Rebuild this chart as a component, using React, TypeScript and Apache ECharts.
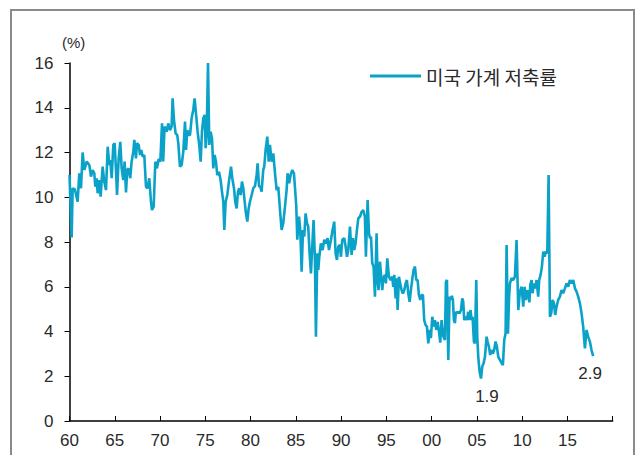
import React, { useEffect, useRef } from 'react';
import * as echarts from 'echarts';

const seriesName = '미국 가계 저축률';
const unitLabel = '(%)';

const years = [
  1960.0, 1960.24, 1960.35, 1960.6, 1960.9, 1961.08, 1961.27, 1961.45, 1961.64, 1961.9,
  1962.19, 1962.37, 1962.56, 1962.74, 1962.85, 1963.0, 1963.11, 1963.29, 1963.44, 1963.66,
  1963.84, 1964.03, 1964.22, 1964.4, 1964.5, 1964.66, 1964.84, 1964.99, 1965.14, 1965.25,
  1965.43, 1965.61, 1965.76, 1965.94, 1966.09, 1966.24, 1966.38, 1966.53, 1966.71, 1966.86,
  1967.05, 1967.16, 1967.34, 1967.45, 1967.64, 1967.79, 1967.93, 1968.08, 1968.26, 1968.45,
  1968.63, 1968.81, 1969.0, 1969.11, 1969.3, 1969.48, 1969.66, 1969.85, 1970.03, 1970.22,
  1970.35, 1970.5, 1970.73, 1970.91, 1971.1, 1971.28, 1971.39, 1971.54, 1971.72, 1971.9,
  1972.02, 1972.2, 1972.39, 1972.57, 1972.76, 1972.87, 1973.01, 1973.16, 1973.31, 1973.49,
  1973.67, 1973.82, 1973.97, 1974.15, 1974.33, 1974.49, 1974.63, 1974.78, 1974.93, 1975.04,
  1975.15, 1975.3, 1975.44, 1975.59, 1975.74, 1975.88, 1976.03, 1976.18, 1976.32, 1976.51,
  1976.69, 1976.84, 1976.99, 1977.1, 1977.25, 1977.43, 1977.61, 1977.84, 1977.98, 1978.17,
  1978.31, 1978.46, 1978.61, 1978.75, 1978.9, 1979.05, 1979.2, 1979.35, 1979.49, 1979.64,
  1979.79, 1979.93, 1980.12, 1980.3, 1980.49, 1980.67, 1980.78, 1980.93, 1981.07, 1981.22,
  1981.4, 1981.51, 1981.66, 1981.85, 1982.0, 1982.14, 1982.33, 1982.51, 1982.7, 1982.88,
  1983.06, 1983.25, 1983.43, 1983.61, 1983.8, 1983.98, 1984.09, 1984.27, 1984.42, 1984.61,
  1984.79, 1984.9, 1985.05, 1985.16, 1985.35, 1985.49, 1985.64, 1985.79, 1985.93, 1986.08,
  1986.23, 1986.37, 1986.52, 1986.67, 1986.81, 1986.96, 1987.11, 1987.22, 1987.37, 1987.48,
  1987.59, 1987.77, 1987.96, 1988.14, 1988.33, 1988.51, 1988.66, 1988.88, 1989.06, 1989.24,
  1989.39, 1989.54, 1989.69, 1989.87, 1989.98, 1990.13, 1990.35, 1990.5, 1990.65, 1990.79,
  1990.98, 1991.16, 1991.31, 1991.45, 1991.6, 1991.75, 1991.9, 1992.08, 1992.27, 1992.45,
  1992.63, 1992.74, 1992.93, 1993.08, 1993.19, 1993.3, 1993.44, 1993.59, 1993.74, 1993.92,
  1994.03, 1994.14, 1994.29, 1994.4, 1994.55, 1994.66, 1994.84, 1994.95, 1995.1, 1995.28,
  1995.47, 1995.65, 1995.76, 1995.87, 1996.02, 1996.13, 1996.24, 1996.39, 1996.53, 1996.68,
  1996.83, 1996.98, 1997.13, 1997.27, 1997.42, 1997.57, 1997.71, 1997.9, 1998.01, 1998.16,
  1998.3, 1998.45, 1998.6, 1998.74, 1998.89, 1999.04, 1999.18, 1999.33, 1999.48, 1999.63,
  1999.81, 1999.92, 2000.07, 2000.22, 2000.36, 2000.51, 2000.66, 2000.84, 2000.95, 2001.1,
  2001.28, 2001.47, 2001.58, 2001.69, 2001.84, 2001.98, 2002.09, 2002.24, 2002.35, 2002.46,
  2002.57, 2002.68, 2002.83, 2002.94, 2003.09, 2003.24, 2003.38, 2003.49, 2003.6, 2003.75,
  2003.9, 2004.04, 2004.15, 2004.3, 2004.41, 2004.52, 2004.67, 2004.78, 2004.93, 2005.04,
  2005.15, 2005.3, 2005.45, 2005.59, 2005.74, 2005.89, 2006.07, 2006.18, 2006.33, 2006.47,
  2006.62, 2006.77, 2006.91, 2007.06, 2007.21, 2007.36, 2007.54, 2007.73, 2007.87, 2008.02,
  2008.17, 2008.28, 2008.43, 2008.55, 2008.65, 2008.83, 2009.01, 2009.2, 2009.38, 2009.57,
  2009.75, 2009.94, 2010.12, 2010.27, 2010.41, 2010.56, 2010.71, 2010.8, 2010.9, 2011.04,
  2011.15, 2011.3, 2011.44, 2011.59, 2011.77, 2011.88, 2012.03, 2012.18, 2012.33, 2012.48,
  2012.62, 2012.77, 2012.92, 2013.07, 2013.21, 2013.36, 2013.51, 2013.65, 2013.8, 2013.98,
  2014.17, 2014.35, 2014.53, 2014.72, 2014.9, 2015.09, 2015.27, 2015.46, 2015.64, 2015.83,
  2016.01, 2016.19, 2016.38, 2016.56, 2016.74, 2016.93, 2017.11, 2017.29, 2017.48, 2017.66,
  2017.84,
];

const rates = [
  11.0, 8.2, 10.4, 10.35, 9.8, 11.07, 10.4, 12.0, 11.22, 11.59,
  11.44, 10.92, 11.22, 11.07, 10.47, 10.85, 10.18, 10.77, 10.03, 11.37,
  10.7, 10.32, 12.26, 11.44, 11.66, 10.85, 12.34, 12.41, 11.14, 10.1,
  11.74, 12.48, 11.29, 10.77, 11.59, 10.22, 11.22, 11.29, 10.85, 11.59,
  12.04, 12.56, 11.74, 12.41, 12.34, 11.89, 12.11, 11.81, 11.89, 10.47,
  10.4, 10.85, 9.8, 9.43, 9.58, 11.59, 11.29, 11.71, 11.59, 13.3,
  11.6, 13.16, 12.93, 13.3, 13.0, 13.16, 14.42, 13.45, 12.86, 12.78,
  12.41, 11.37, 11.44, 12.04, 13.38, 12.11, 13.0, 12.78, 12.78, 13.53,
  13.9, 14.42, 13.75, 12.93, 12.34, 11.59, 12.93, 13.53, 13.68, 12.19,
  12.78, 16.0, 12.34, 12.93, 12.63, 11.29, 11.89, 11.59, 10.99, 11.14,
  10.77, 10.25, 9.8, 8.54, 9.8, 10.1, 10.7, 11.37, 10.85, 10.4,
  9.8, 9.5, 10.25, 10.4, 10.1, 10.7, 10.4, 9.8, 9.28, 8.91,
  9.5, 9.8, 10.1, 10.4, 10.5, 11.0, 11.52, 10.5, 10.47, 10.25,
  11.22, 11.37, 12.11, 12.71, 11.59, 12.34, 11.59, 11.96, 11.07, 10.32,
  10.47, 9.43, 8.54, 8.84, 9.58, 10.32, 11.07, 10.62, 10.99, 11.22,
  11.07, 10.47, 9.58, 8.1, 9.13, 8.54, 6.67, 8.54, 8.24, 9.28,
  8.84, 8.69, 7.5, 6.6, 7.79, 8.98, 7.2, 3.77, 7.5, 6.75,
  7.34, 7.94, 7.64, 8.1, 7.94, 8.17, 7.64, 8.1, 8.54, 8.91,
  7.5, 7.2, 7.79, 7.87, 7.34, 8.1, 8.17, 7.79, 7.34, 7.64,
  8.69, 7.42, 8.17, 7.64, 7.94, 8.54, 9.06, 9.13, 9.35, 9.43,
  9.13, 7.34, 9.88, 8.39, 8.17, 8.24, 7.05, 6.9, 5.56, 8.39,
  6.3, 5.85, 7.12, 6.6, 5.85, 6.38, 6.53, 6.15, 7.27, 6.45,
  6.3, 6.45, 6.0, 6.53, 5.48, 6.38, 4.96, 6.45, 6.15, 5.85,
  5.7, 5.85, 6.15, 6.3, 5.7, 5.33, 5.85, 6.45, 6.75, 6.9,
  6.3, 6.3, 5.63, 5.41, 5.63, 5.63, 4.51, 4.29, 4.22, 3.47,
  4.07, 3.7, 4.66, 4.22, 4.51, 4.07, 4.43, 3.92, 3.5, 4.51,
  3.8, 3.62, 6.23, 6.3, 2.73, 5.56, 5.41, 5.59, 5.41, 4.51,
  4.37, 4.88, 4.81, 4.88, 4.81, 4.96, 5.48, 5.33, 4.51, 4.66,
  4.51, 4.88, 4.51, 4.96, 4.51, 4.66, 3.55, 3.47, 6.3, 3.77,
  2.87, 2.2, 1.9, 2.43, 2.58, 2.87, 3.77, 3.55, 3.32, 2.95,
  3.17, 3.02, 3.17, 3.55, 3.32, 2.87, 2.73, 2.58, 2.5, 3.62,
  3.92, 7.87, 3.9, 5.5, 6.15, 6.38, 6.3, 6.45, 8.09, 4.96,
  5.78, 6.0, 5.11, 6.0, 5.41, 5.85, 5.56, 5.3, 6.1, 6.3,
  5.71, 6.15, 5.93, 6.3, 5.56, 6.3, 6.52, 6.9, 7.57, 7.34,
  7.57, 7.49, 10.99, 4.66, 4.81, 5.41, 5.26, 4.74, 5.11, 5.41,
  5.56, 5.85, 5.71, 5.93, 6.15, 6.0, 6.3, 6.15, 6.3, 5.93,
  5.78, 5.56, 5.26, 4.81, 4.22, 3.25, 4.07, 3.77, 3.55, 3.17,
  2.9,
];

const xMin = 1960;
const xMax = 2020;
const xStep = 5;
const yMin = 0;
const yMax = 16;
const yStep = 2;

const annotations = [
  { label: '1.9', year: 2005.45, value: 1.9, offset: [6, 18] },
  { label: '2.9', year: 2017.84, value: 2.9, offset: [-3, 17] },
];

export default function App() {
  const ref = useRef<HTMLDivElement>(null);
  useEffect(() => {
    document.body.style.margin = '0';
    const chart = echarts.init(ref.current as HTMLDivElement, null, { renderer: 'svg' });
    const data = years.map((y, i) => [y, rates[i]]);
    const numFont = "'Liberation Sans', Arial, sans-serif";
    chart.setOption({
      animation: false,
      backgroundColor: '#ffffff',
      grid: { left: 69.5, right: 25.3, top: 63, bottom: 34, containLabel: false },
      legend: {
        show: true,
        data: [seriesName],
        left: 370,
        top: 66,
        padding: 0,
        icon: 'rect',
        itemWidth: 51,
        itemHeight: 3,
        textStyle: {
          fontFamily: "'Noto Sans CJK KR', sans-serif",
          fontSize: 19,
          color: '#2a2a2a',
          lineHeight: 20,
        },
      },
      xAxis: {
        type: 'value',
        min: xMin,
        max: xMax,
        interval: xStep,
        splitLine: { show: false },
        axisLine: { show: true, onZero: false, lineStyle: { color: '#000', width: 1.5 } },
        axisTick: { show: true, inside: true, length: 5, lineStyle: { color: '#000', width: 1 } },
        axisLabel: {
          margin: 11,
          fontSize: 17,
          fontFamily: numFont,
          color: '#2a2a2a',
          formatter: (v: number) => (v >= xMax ? '' : String(v % 100).padStart(2, '0')),
        },
      },
      yAxis: {
        type: 'value',
        min: yMin,
        max: yMax,
        interval: yStep,
        splitLine: { show: false },
        axisLine: { show: true, lineStyle: { color: '#000', width: 1.5 } },
        axisTick: { show: true, inside: false, length: 5, lineStyle: { color: '#000', width: 1 } },
        axisLabel: { margin: 16, fontSize: 17, fontFamily: numFont, color: '#2a2a2a' },
      },
      series: [
        {
          name: seriesName,
          type: 'line',
          data,
          showSymbol: false,
          symbol: 'none',
          lineStyle: { color: '#0aa2c8', width: 2.6 },
          itemStyle: { color: '#0aa2c8' },
          markPoint: {
            symbol: 'circle',
            symbolSize: 0,
            silent: true,
            data: annotations.map((a) => ({
              coord: [a.year, a.value],
              value: a.label,
              label: {
                show: true,
                position: 'inside',
                offset: a.offset,
                formatter: a.label,
                fontSize: 17,
                fontFamily: numFont,
                color: '#2a2a2a',
              },
            })),
          },
        },
      ],
      graphic: [
        {
          type: 'rect',
          shape: { x: 11, y: 10, width: 623, height: 470 },
          style: { fill: 'none', stroke: '#8a8a8a', lineWidth: 2 },
          silent: true,
        },
        {
          type: 'text',
          x: 62,
          y: 42,
          style: {
            text: unitLabel,
            fontSize: 15,
            fontFamily: numFont,
            fill: '#2a2a2a',
            textVerticalAlign: 'middle',
          },
        },
      ],
    });
    return () => chart.dispose();
  }, []);
  return <div ref={ref} style={{ width: 638, height: 455 }} />;
}
